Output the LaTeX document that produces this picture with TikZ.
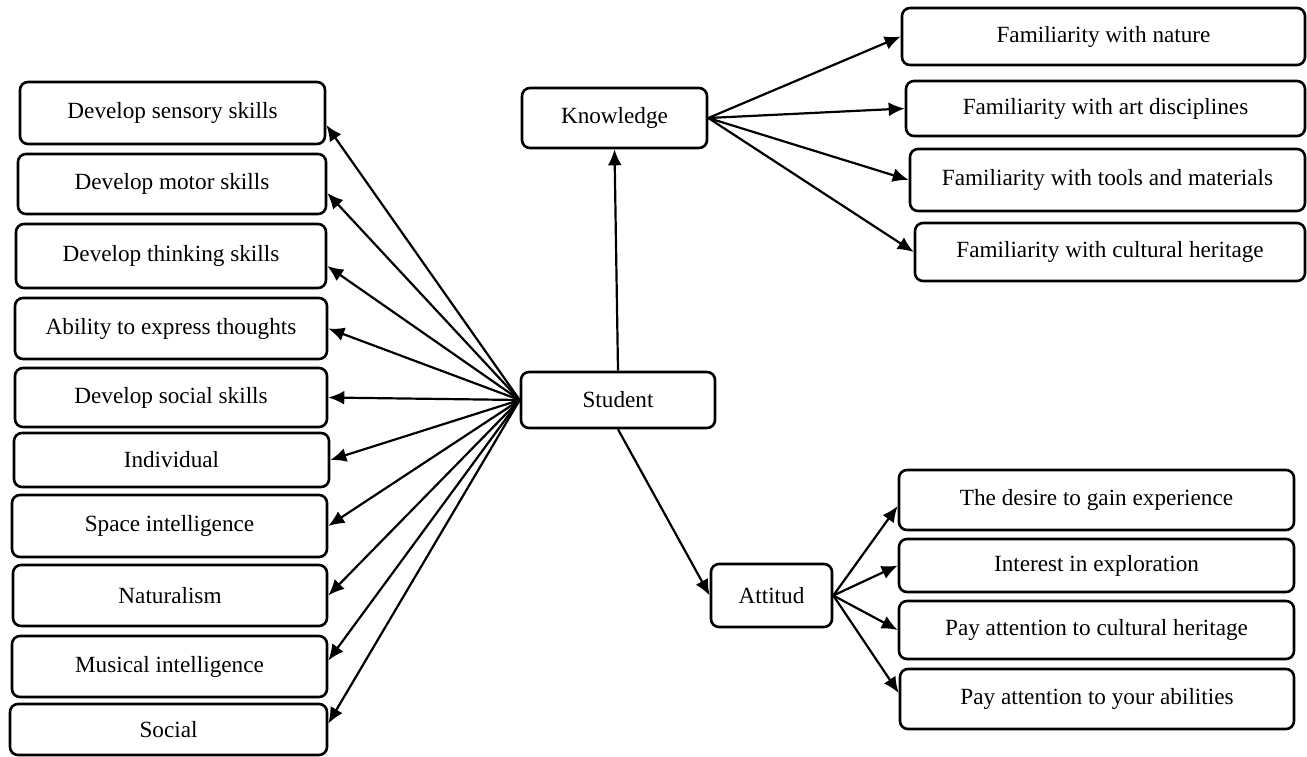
\documentclass[tikz,border=0pt]{standalone}
\usepackage{fontspec}
\setmainfont{Liberation Serif}
\usetikzlibrary{arrows.meta}

\begin{document}
\begin{tikzpicture}[x=0.5pt, y=-0.5pt,
        box/.style={draw, line width=1.3pt, rounded corners=4pt, align=center,
            inner sep=2pt, font=\fontsize{11.6}{13}\selectfont},
        link/.style={line width=1.1pt, -{Latex[length=8pt,width=7pt]}}]
            \useasboundingbox (0,0) rectangle (1307,756);

            % Central node and the two upper / lower branches
            \node[box, minimum width=97pt, minimum height=28pt] (S) at (618,400) {Student};
            \node[box, minimum width=92.5pt, minimum height=30pt] (K) at (614.5,118) {Knowledge};
            \node[box, minimum width=60.5pt, minimum height=31.5pt] (At) at (771.5,595.5) {Attitud};

            % Left column of outcomes
            \node[box, minimum width=152.5pt, minimum height=31pt] (L1) at (172.5,113) {Develop sensory skills};
            \node[box, minimum width=154pt, minimum height=30pt] (L2) at (172,184) {Develop motor skills};
            \node[box, minimum width=155pt, minimum height=32pt] (L3) at (171,256) {Develop thinking skills};
            \node[box, minimum width=156pt, minimum height=30.5pt] (L4) at (171,328.5) {Ability to express thoughts};
            \node[box, minimum width=156pt, minimum height=29.5pt] (L5) at (171,397.5) {Develop social skills};
            \node[box, minimum width=157.5pt, minimum height=27pt] (L6) at (171.5,460) {Individual};
            \node[box, minimum width=157.5pt, minimum height=31pt] (L7) at (169.5,526) {Space intelligence};
            \node[box, minimum width=157pt, minimum height=30.5pt] (L8) at (170,595.5) {Naturalism};
            \node[box, minimum width=157.5pt, minimum height=30.5pt] (L9) at (169.5,666.5) {Musical intelligence};
            \node[box, minimum width=158.5pt, minimum height=25.5pt] (L10) at (168.5,729.5) {Social};

            % Knowledge branch
            \node[box, minimum width=201.5pt, minimum height=28.5pt] (K1) at (1103.5,36.5) {Familiarity with nature};
            \node[box, minimum width=199.5pt, minimum height=27.5pt] (K2) at (1105.5,108.5) {Familiarity with art disciplines};
            \node[box, minimum width=197.5pt, minimum height=31pt] (K3) at (1107.5,180) {Familiarity with tools and materials};
            \node[box, minimum width=195pt, minimum height=29pt] (K4) at (1110,252) {Familiarity with cultural heritage};

            % Attitude branch
            \node[box, minimum width=197.5pt, minimum height=30pt] (A1) at (1096.5,500) {The desire to gain experience};
            \node[box, minimum width=197.5pt, minimum height=26.5pt] (A2) at (1096.5,565.5) {Interest in exploration};
            \node[box, minimum width=197.5pt, minimum height=29pt] (A3) at (1096.5,630) {Pay attention to cultural heritage};
            \node[box, minimum width=197pt, minimum height=30pt] (A4) at (1097,699) {Pay attention to your abilities};

            % Arrows out of the student
            \draw[link] (S.north) -- (K.south);
            \draw[link] (S.south) -- (At.west);
            \draw[link] (S.west) -- ([yshift=-6pt]L1.east);
            \draw[link] (S.west) -- ([yshift=-4.5pt]L2.east);
            \draw[link] (S.west) -- ([yshift=-5pt]L3.east);
            \draw[link] (S.west) -- (L4.east);
            \draw[link] (S.west) -- (L5.east);
            \draw[link] (S.west) -- (L6.east);
            \draw[link] (S.west) -- (L7.east);
            \draw[link] (S.west) -- (L8.east);
            \draw[link] (S.west) -- ([yshift=3pt]L9.east);
            \draw[link] (S.west) -- ([yshift=3pt]L10.east);

            % Arrows out of knowledge
            \draw[link] (K.east) -- (K1.west);
            \draw[link] (K.east) -- (K2.west);
            \draw[link] (K.east) -- (K3.west);
            \draw[link] (K.east) -- (K4.west);

            % Arrows out of attitude
            \draw[link] (At.east) -- ([yshift=-3pt]A1.west);
            \draw[link] (At.east) -- (A2.west);
            \draw[link] (At.east) -- (A3.west);
            \draw[link] (At.east) -- ([yshift=3pt]A4.west);
        \end{tikzpicture}
\end{document}
